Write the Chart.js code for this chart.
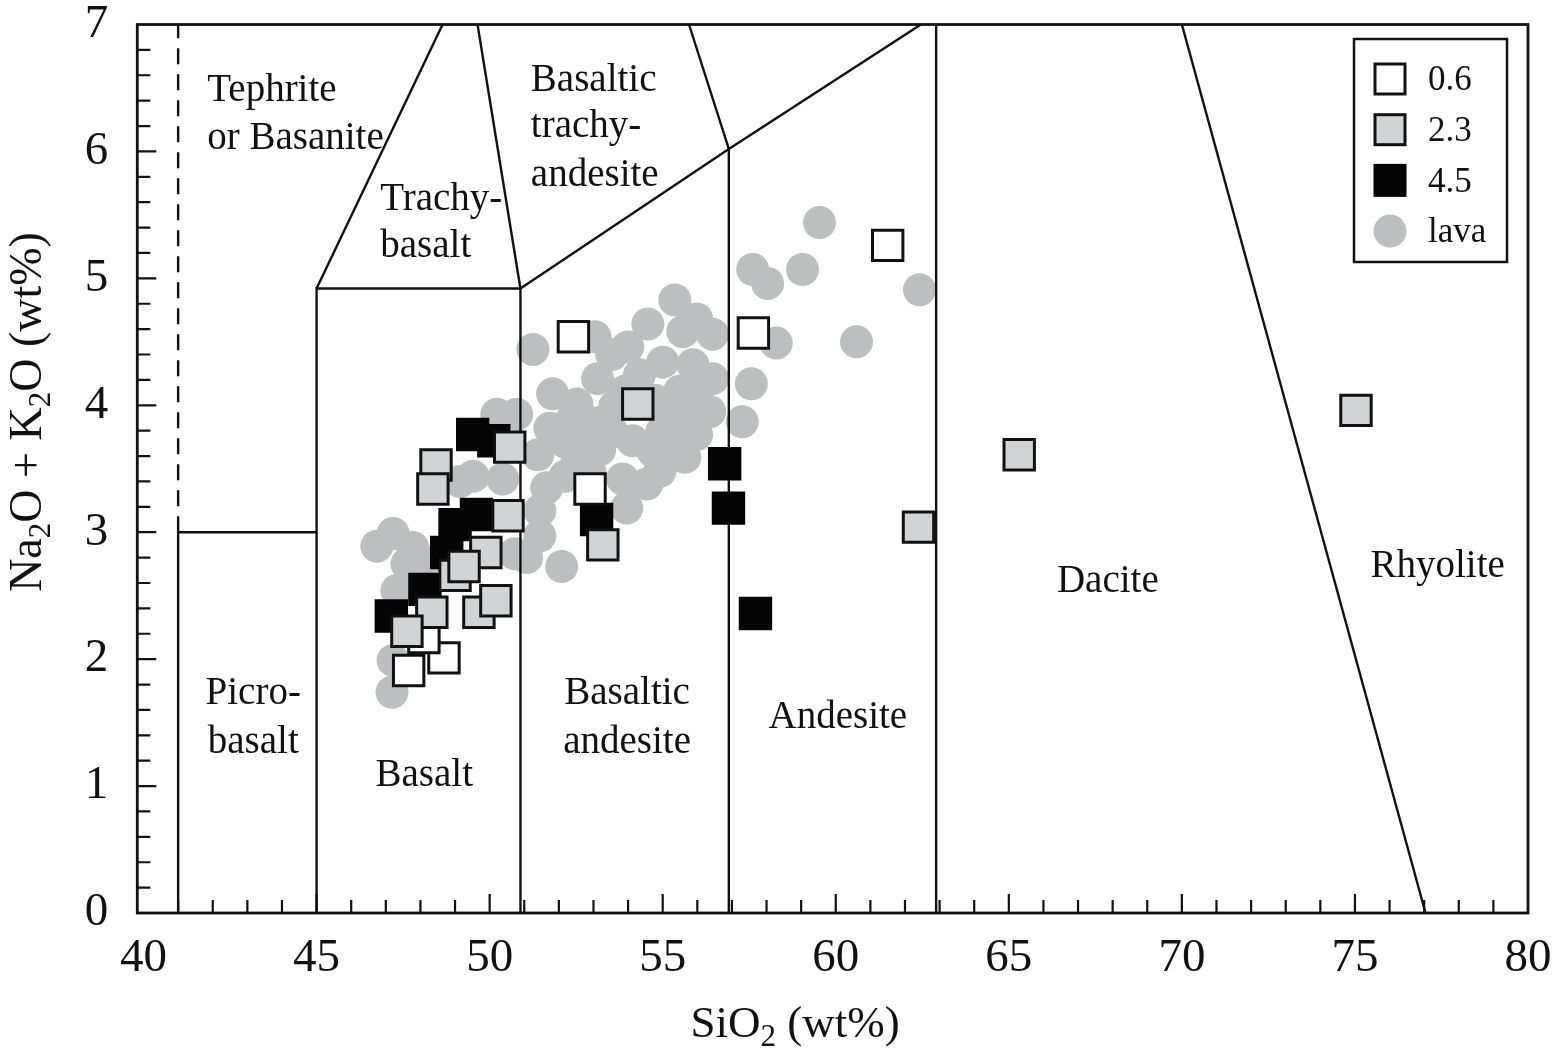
<!DOCTYPE html>
<html>
<head>
<meta charset="utf-8">
<script src="https://cdn.jsdelivr.net/npm/chart.js@4.4.1/dist/chart.umd.min.js"></script>
<style>
  html, body { margin: 0; padding: 0; background: #fff; }
  #wrap { width: 1554px; height: 1052px; }
</style>
</head>
<body>
<div id="wrap"><canvas id="tas" width="1554" height="1052"></canvas></div>
<script>
// --- tick labels ---
const xTicks = [40, 45, 50, 55, 60, 65, 70, 75, 80];
const yTicks = [0, 1, 2, 3, 4, 5, 6, 7];

// --- samples (SiO2 wt%, Na2O+K2O wt%) ---
const sio2_06 = [52.42, 61.50, 57.62, 52.90, 47.66, 48.68, 48.10];
const alk_06  = [4.54, 5.26, 4.57, 3.34, 1.91, 2.01, 2.17];

const sio2_23 = [48.45, 48.36, 50.58, 50.53, 49.89, 49.00, 49.26, 49.69, 50.18, 48.33, 47.61, 53.27, 54.28, 62.39, 65.30, 75.03];
const alk_23  = [3.53, 3.34, 3.67, 3.13, 2.84, 2.66, 2.73, 2.37, 2.46, 2.37, 2.22, 2.90, 4.01, 3.04, 3.61, 3.96];

const sio2_45 = [49.51, 50.12, 49.62, 49.00, 48.76, 48.13, 47.16, 53.09, 56.79, 56.90, 57.68];
const alk_45  = [3.77, 3.72, 3.14, 3.06, 2.84, 2.55, 2.34, 3.10, 3.54, 3.19, 2.36];

const sio2_lava = [46.74, 47.21, 47.78, 47.61, 47.32, 48.13, 47.21, 47.18, 49.52, 49.14,
  50.21, 50.78, 50.38, 50.73, 51.25, 53.04, 53.12, 51.82, 52.52, 52.60,
  53.27, 51.74, 52.40, 51.39, 52.52, 53.18, 52.75, 53.84, 54.54, 53.96,
  51.65, 51.45, 51.45, 51.07, 52.08, 54.13, 54.71, 55.29, 55.98, 56.36,
  55.49, 55.11, 55.49, 56.44, 55.87, 55.00, 54.33, 54.57, 55.35, 55.98,
  56.44, 55.58, 53.61, 57.60, 58.03, 59.04, 59.53, 62.42, 60.60, 58.28,
  57.56, 57.30, 53.53, 53.91, 54.77, 55.78, 56.07, 52.18, 52.18, 52.90,
  53.53, 54.97, 55.64, 54.92, 53.99];
const alk_lava = [2.89, 2.99, 2.88, 2.75, 2.54, 2.77, 1.99, 1.74, 3.44, 3.40,
  3.93, 3.93, 3.42, 2.83, 4.44, 4.54, 4.21, 4.09, 4.01, 3.93,
  3.87, 3.82, 3.90, 3.61, 3.55, 3.65, 3.72, 3.42, 3.38, 3.19,
  3.35, 3.17, 2.97, 2.80, 2.73, 3.72, 3.64, 3.66, 3.77, 3.95,
  3.87, 3.95, 4.11, 4.21, 4.32, 4.34, 4.24, 4.64, 4.83, 4.68,
  4.56, 4.58, 3.99, 5.07, 4.96, 5.07, 5.44, 4.91, 4.50, 4.49,
  4.17, 3.87, 4.40, 4.11, 4.04, 3.99, 4.14, 3.71, 3.44, 3.48,
  3.79, 3.79, 3.59, 3.48, 4.46];

// --- TAS field boundaries ---
const picroBasaltLine   = [[41, 0], [41, 3], [45, 3]];
const basaltLine        = [[45, 0], [45, 4.92], [50.89, 4.92], [50.89, 0]];
const basAndesiteTop    = [[50.89, 4.92], [56.91, 6.02], [62.46, 7]];
const andesiteLeft      = [[56.91, 0], [56.91, 6.02], [55.76, 7]];
const trachyBasaltLeft  = [[45, 4.92], [48.64, 7]];
const trachyBasaltRight = [[50.89, 4.92], [49.65, 7]];
const daciteLeft        = [[62.9, 0], [62.9, 7]];
const rhyoliteLeft      = [[70, 7], [77.04, 0]];
const tephriteDash      = [[41, 3], [41, 7]];

// field names: [text, SiO2, alkali baseline, align]
const fieldNames = [
  ["Tephrite", 41.84, 6.40, "left"],
  ["or Basanite", 41.84, 6.02, "left"],
  ["Trachy-", 46.84, 5.54, "left"],
  ["basalt", 46.84, 5.17, "left"],
  ["Basaltic", 51.19, 6.48, "left"],
  ["trachy-", 51.19, 6.11, "left"],
  ["andesite", 51.19, 5.73, "left"],
  ["Picro-", 43.17, 1.65, "center"],
  ["basalt", 43.17, 1.26, "center"],
  ["Basalt", 48.11, 1.00, "center"],
  ["Basaltic", 53.97, 1.65, "center"],
  ["andesite", 53.97, 1.26, "center"],
  ["Andesite", 60.06, 1.46, "center"],
  ["Dacite", 67.86, 2.53, "center"],
  ["Rhyolite", 77.39, 2.65, "center"]
];

const FONT = "'Liberation Serif', 'Times New Roman', serif";

function pts(xs, ys) { return xs.map((x, i) => ({ x: x, y: ys[i] })); }
function poly(p) { return p.map(q => ({ x: q[0], y: q[1] })); }

function boundary(p, dash) {
  return {
    label: "", data: poly(p), showLine: true, pointRadius: 0, pointHoverRadius: 0,
    borderColor: "#111", borderWidth: 2.4, borderDash: dash || [], tension: 0,
    fill: false, order: 10
  };
}

const datasets = [
  { label: "0.6", data: pts(sio2_06, alk_06), pointStyle: "rect", pointRadius: 21.5,
    backgroundColor: "#ffffff", borderColor: "#111", borderWidth: 3, order: 2 },
  { label: "2.3", data: pts(sio2_23, alk_23), pointStyle: "rect", pointRadius: 21.5,
    backgroundColor: "#d1d3d4", borderColor: "#111", borderWidth: 3, order: 1 },
  { label: "4.5", data: pts(sio2_45, alk_45), pointStyle: "rect", pointRadius: 21.5,
    backgroundColor: "#050505", borderColor: "#050505", borderWidth: 3, order: 3 },
  { label: "lava", data: pts(sio2_lava, alk_lava), pointStyle: "circle", pointRadius: 16.5,
    backgroundColor: "#bcbec0", borderColor: "#bcbec0", borderWidth: 0, order: 20 },
  boundary(picroBasaltLine), boundary(basaltLine), boundary(basAndesiteTop),
  boundary(andesiteLeft), boundary(trachyBasaltLeft), boundary(trachyBasaltRight),
  boundary(daciteLeft), boundary(rhyoliteLeft), boundary(tephriteDash, [16, 10])
];

function drawRich(ctx, parts, x, y, size, rotate) {
  ctx.save();
  ctx.translate(x, y);
  if (rotate) ctx.rotate(-Math.PI / 2);
  const big = size + "px " + FONT;
  const small = Math.round(size * 0.68) + "px " + FONT;
  let total = 0;
  parts.forEach(p => { ctx.font = p.sub ? small : big; p.w = ctx.measureText(p.t).width; total += p.w; });
  let cx = -total / 2;
  ctx.fillStyle = "#111";
  ctx.textBaseline = "alphabetic";
  ctx.textAlign = "left";
  parts.forEach(p => {
    ctx.font = p.sub ? small : big;
    ctx.fillText(p.t, cx, p.sub ? size * 0.2 : 0);
    cx += p.w;
  });
  ctx.restore();
}

const tasDecor = {
  id: "tasDecor",
  afterDraw(chart) {
    const ctx = chart.ctx;
    const a = chart.chartArea;
    const xs = chart.scales.x, ys = chart.scales.y;
    ctx.save();
    ctx.strokeStyle = "#111";
    ctx.lineWidth = 2.2;
    // inward ticks
    ctx.beginPath();
    for (let v = 41; v < 80; v++) {
      const px = xs.getPixelForValue(v);
      const len = v % 5 === 0 ? 19 : 13;
      ctx.moveTo(px, a.bottom); ctx.lineTo(px, a.bottom - len);
    }
    for (let i = 1; i < 35; i++) {
      const py = ys.getPixelForValue(i / 5);
      const len = i % 5 === 0 ? 19 : 13;
      ctx.moveTo(a.left, py); ctx.lineTo(a.left + len, py);
    }
    ctx.stroke();
    // frame
    ctx.lineWidth = 2.8;
    ctx.strokeRect(a.left, a.top, a.right - a.left, a.bottom - a.top);

    // field names
    ctx.fillStyle = "#111";
    ctx.font = "39px " + FONT;
    ctx.textBaseline = "alphabetic";
    fieldNames.forEach(f => {
      ctx.textAlign = f[3];
      ctx.fillText(f[0], xs.getPixelForValue(f[1]), ys.getPixelForValue(f[2]));
    });

    // axis titles
    drawRich(ctx, [{ t: "SiO" }, { t: "2", sub: true }, { t: " (wt%)" }], 795, 1037, 45, false);
    drawRich(ctx, [{ t: "Na" }, { t: "2", sub: true }, { t: "O + K" }, { t: "2", sub: true }, { t: "O (wt%)" }], 41, 412, 46, true);

    // legend
    const lx = 1354, ly = 39, lw = 153, lh = 223;
    ctx.fillStyle = "#fff";
    ctx.fillRect(lx, ly, lw, lh);
    ctx.lineWidth = 2.5;
    ctx.strokeRect(lx, ly, lw, lh);
    const order = ["0.6", "2.3", "4.5", "lava"];
    order.forEach((lab, i) => {
      const ds = chart.data.datasets.find(d => d.label === lab);
      const cy = 79 + i * 50.7, cx = 1390;
      if (ds.pointStyle === "circle") {
        ctx.fillStyle = ds.backgroundColor;
        ctx.beginPath(); ctx.arc(cx, cy, 16.5, 0, Math.PI * 2); ctx.fill();
      } else {
        ctx.fillStyle = ds.backgroundColor;
        ctx.fillRect(cx - 15, cy - 15, 30, 30);
        ctx.lineWidth = 3;
        ctx.strokeStyle = ds.borderColor;
        ctx.strokeRect(cx - 15, cy - 15, 30, 30);
      }
      ctx.fillStyle = "#111";
      ctx.font = "35px " + FONT;
      ctx.textAlign = "left";
      ctx.textBaseline = "middle";
      ctx.fillText(lab, 1428, cy + 2);
    });
    ctx.restore();
  }
};

new Chart(document.getElementById("tas"), {
  type: "scatter",
  data: { datasets: datasets },
  options: {
    responsive: false,
    animation: false,
    devicePixelRatio: 1,
    layout: { padding: { top: 20, right: 26, left: 0, bottom: 0 } },
    plugins: { legend: { display: false }, tooltip: { enabled: false } },
    scales: {
      x: {
        type: "linear", min: 39.82, max: 80,
        afterFit: s => { s.height = 139; s.paddingLeft = 0; s.paddingRight = 0; },
        afterBuildTicks: s => { s.ticks = xTicks.map(v => ({ value: v })); },
        grid: { display: false, drawTicks: false },
        border: { display: false },
        ticks: { color: "#111", font: { family: FONT, size: 47 }, padding: 17, maxRotation: 0, autoSkip: false }
      },
      y: {
        type: "linear", min: 0, max: 7,
        afterFit: s => { s.width = 137.3; s.paddingTop = 0; s.paddingBottom = 0; },
        afterBuildTicks: s => { s.ticks = yTicks.map(v => ({ value: v })); },
        grid: { display: false, drawTicks: false },
        border: { display: false },
        ticks: { color: "#111", font: { family: FONT, size: 47 }, padding: 29, autoSkip: false }
      }
    }
  },
  plugins: [tasDecor]
});
</script>
</body>
</html>
